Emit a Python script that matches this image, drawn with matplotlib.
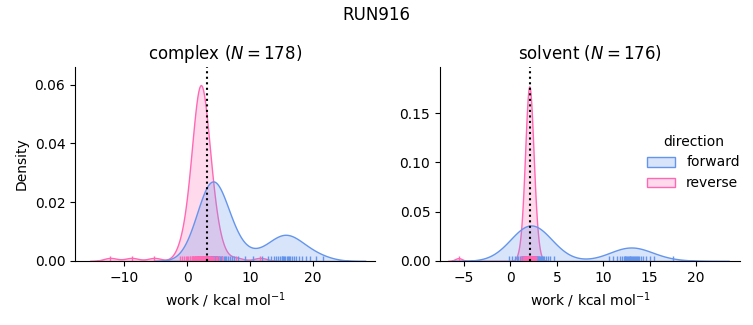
import matplotlib
matplotlib.use("Agg")
import matplotlib.pyplot as plt
import pandas as pd
import seaborn as sns

# work values (kcal/mol) for each phase and direction
complex_forward = [
    1.6, 2.0, 2.3, 2.5, 2.6, 2.8, 2.9, 3.0, 3.1, 3.1, 3.2, 3.3, 3.3, 3.4, 3.4,
    3.5, 3.5, 3.6, 3.6, 3.6, 3.7, 3.7, 3.7, 3.8, 3.8, 3.8, 3.9, 3.9, 3.9, 4.0,
    4.0, 4.0, 4.1, 4.1, 4.1, 4.2, 4.2, 4.3, 4.3, 4.4, 4.4, 4.5, 4.5, 4.6, 4.7,
    4.7, 4.8, 4.9, 5.0, 5.1, 5.2, 5.3, 5.5, 5.6, 5.8, 6.0, 6.2, 6.5, 6.8, 7.1,
    7.5, 8.0,
    9.2, 10.5, 11.8,
    12.8, 13.3, 13.7, 14.1, 14.4, 14.7, 15.0, 15.1, 15.2, 15.4, 15.6, 15.8,
    16.0, 16.1, 16.3, 16.6, 16.9, 17.3, 17.7, 18.2, 18.8, 19.5, 20.4, 21.5,
]
complex_reverse = [
    -12.2, -8.8, -5.2,
    -1.2, -0.8, -0.5, -0.2, 0.0, 0.2, 0.4, 0.5, 0.7, 0.8, 0.9, 1.0, 1.0, 1.1,
    1.2, 1.2, 1.3, 1.3, 1.4, 1.4, 1.5, 1.5, 1.6, 1.6, 1.6, 1.7, 1.7, 1.7, 1.8,
    1.8, 1.8, 1.9, 1.9, 1.9, 2.0, 2.0, 2.0, 2.0, 2.1, 2.1, 2.1, 2.1, 2.2, 2.2,
    2.2, 2.2, 2.3, 2.3, 2.3, 2.4, 2.4, 2.4, 2.5, 2.5, 2.5, 2.6, 2.6, 2.7, 2.7,
    2.7, 2.8, 2.8, 2.9, 2.9, 3.0, 3.0, 3.1, 3.1, 3.2, 3.3, 3.3, 3.4, 3.5, 3.6,
    3.6, 3.7, 3.8, 3.9, 4.1, 4.3, 4.5, 4.8, 5.1, 5.5,
    7.8, 11.6,
]
solvent_forward = [
    -0.2, 0.2, 0.5, 0.7, 0.8, 1.0, 1.1, 1.2, 1.2, 1.3, 1.4, 1.4, 1.5, 1.5,
    1.6, 1.6, 1.7, 1.7, 1.7, 1.8, 1.8, 1.8, 1.9, 1.9, 1.9, 2.0, 2.0, 2.0, 2.0,
    2.1, 2.1, 2.1, 2.1, 2.2, 2.2, 2.2, 2.2, 2.3, 2.3, 2.3, 2.3, 2.4, 2.4, 2.4,
    2.5, 2.5, 2.5, 2.5, 2.6, 2.6, 2.6, 2.7, 2.7, 2.8, 2.8, 2.8, 2.9, 2.9, 3.0,
    3.0, 3.1, 3.1, 3.2, 3.3, 3.4, 3.5, 3.6, 3.8, 4.0, 4.3, 4.7,
    10.6, 11.1, 11.5, 11.8, 12.0, 12.2, 12.3, 12.4, 12.5, 12.6, 12.7, 12.8,
    12.9, 12.9, 13.0, 13.1, 13.2, 13.3, 13.4, 13.5, 13.6, 13.7, 13.9, 14.1,
    14.3, 14.6, 15.0, 15.5, 17.5,
]
solvent_reverse = [
    -5.6,
    1.1, 1.4, 1.3, 1.45, 1.55, 1.62, 1.68, 1.72, 1.75, 1.76, 1.78, 1.8, 1.82,
    1.84, 1.85, 1.86, 1.87, 1.88, 1.89, 1.9, 1.9, 1.91, 1.92, 1.93, 1.94, 1.95,
    1.96, 1.96, 1.97, 1.98, 1.98, 1.99, 2.0, 2.0, 2.0, 2.01, 2.01, 2.02, 2.03,
    2.03, 2.04, 2.05, 2.05, 2.06, 2.07, 2.08, 2.08, 2.09, 2.1, 2.11, 2.12, 2.13,
    2.14, 2.15, 2.16, 2.17, 2.18, 2.19, 2.2, 2.22, 2.24, 2.26, 2.28, 2.3, 2.32,
    2.35, 2.38, 2.41, 2.45, 2.5, 2.55, 2.6, 2.66, 2.72, 2.8,
]

phases = ["complex", "solvent"]
# free energy estimate per phase, drawn as the dotted line
delta_f = [3.1, 2.08]
directions = ["forward", "reverse"]
palette = {"forward": "cornflowerblue", "reverse": "hotpink"}

rows = []
for phase, fwd, rev in zip(phases, [complex_forward, solvent_forward],
                           [complex_reverse, solvent_reverse]):
    rows += [(phase, "forward", w) for w in fwd]
    rows += [(phase, "reverse", w) for w in rev]
df = pd.DataFrame(rows, columns=["phase", "direction", "work"])

g = sns.displot(df, x="work", hue="direction", col="phase", kind="kde",
                fill=True, rug=True, palette=palette, hue_order=directions,
                col_order=phases, height=3, aspect=1.2,
                facet_kws=dict(sharex=False, sharey=False))

for ax, phase, df_est in zip(g.axes.flat, phases, delta_f):
    n = (df["phase"] == phase).sum()
    ax.set_title(f"{phase} ($N = {n}$)", fontsize=12)
    ax.axvline(df_est, color="black", linestyle=":", linewidth=1.5)

g.set_axis_labels("work / kcal mol$^{-1}$", "Density")

ax_c, ax_s = g.axes.flat
ax_c.set_xlim(-17.8, 29.8)
ax_c.set_ylim(0, 0.066)
ax_s.set_xlim(-7.6, 24.75)
ax_s.set_ylim(0, 0.197)

fig = g.figure
fig.set_size_inches(7.53, 3.25)
fig.subplots_adjust(left=0.0996, right=0.9827, bottom=0.197, top=0.794,
                    wspace=0.2167)
fig.suptitle("RUN916", fontsize=12)
sns.move_legend(g, "center left", bbox_to_anchor=(0.843, 0.5), frameon=False)

fig.savefig("out.png", dpi=100)
